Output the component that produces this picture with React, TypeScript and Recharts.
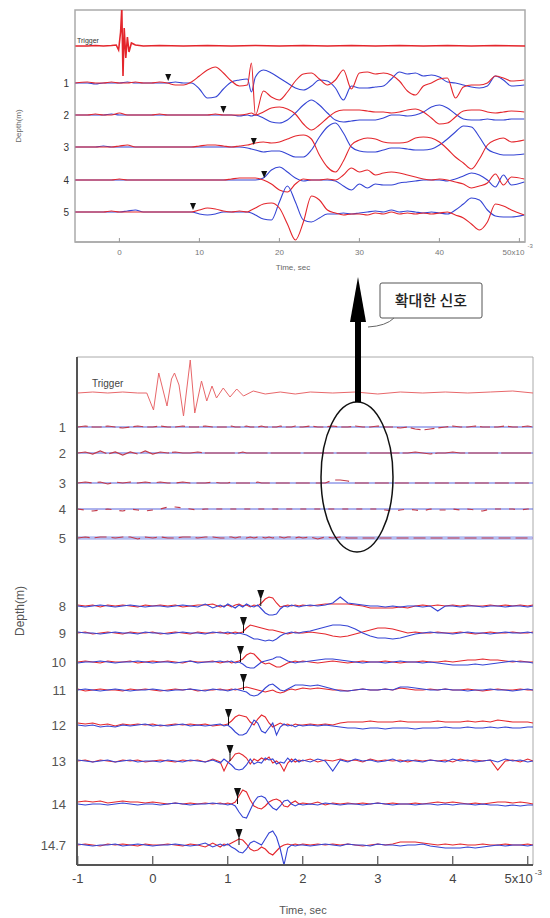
import { ComposedChart, Line, Scatter, XAxis, YAxis, ReferenceArea, ReferenceDot } from 'recharts'

const RED = '#e4262c'
const BLUE = '#3444d4'

// ---- upper panel: enlarged signal, time in ms ----
const TOP_LABELS = ['Trigger', '1', '2', '3', '4', '5']
const TOP_BASE = [196, 159, 127, 95, 62, 30]
const TOP_TICKS = [0, 10, 20, 30, 40, 50]
const TOP_DOMAIN = [-5.55, 50.7]
const TOP_PICKS = [6.1, 13.0, 16.8, 18.1, 9.2]

const TOP_T = [
  -5.5, -4, -3, -2, -1, 0, 1, 2, 3, 4, 5, 6, 7, 8, 9, 10, 11, 12, 13, 14, 15, 16, 16.5,
  17, 18, 19, 20, 21, 22, 23, 24, 25, 26, 27, 28, 29, 30, 31, 32, 33, 34, 35, 36, 37, 38, 39, 40,
  41, 42, 43, 44, 45, 46, 47, 48, 49, 50.6,
]

const TOP_TRIG_T = [
  -5.5, -4, -3, -2, -1, -0.4, -0.1, 0.15, 0.3, 0.45, 0.6, 0.8, 1.0, 1.2, 1.5, 2, 3, 5, 8, 11, 14,
  17, 20, 23, 26, 29, 32, 35, 38, 41, 44, 47, 50.7,
]
const TOP_TRIG = [
  0, 0, 0.5, 0, 0.5, 1, -4, 14, 38, -30, 18, -12, 9, -6, 3, 1, 0, 0.5, 0, 0.5, 0, 0.5, 0, 0.5, 0,
  0.5, 0, 0.5, 0, 0.5, 0, 0.5, 0,
]

const R1_TOP = [
  0, 1, 0, 0, 1, 0, 0, 1, 0, 0, 1, 0, -2, -2, 1, 7, 13, 16, 10, 2, -3, -2, 20,
  -32, -8, -14, -17, -9, 2, 9, 10, 4, -2, 3, 13, -6, 10, 11, 9, 10, 8, 2, -8, -12, -3, 0, 4, 5, -15,
  -4, -2, -2, 0, 7, 5, 2, 3,
]
const B1_TOP = [
  0, 0, -1, 0, 0, 0, 1, 0, 0, 0, 0, 0, 1, 0, 0, -6, -15, -14, -6, 1, 3, 4, -9,
  6, 13, 10, 5, 0, -5, -7, -3, 3, 2, -5, -17, -3, -5, -5, -4, -3, 4, 11, 9, 10, 7, 8, 6, 1, 0,
  -2, -4, -5, -3, 7, 3, -3, -2,
]
const R2_TOP = [
  0, 0, 1, 0, 0, 2, 0, 0, 0, 0, 1, 0, 0, 0, 0, 0, 0, 1, 0, 0, 0, 1, 2,
  0, 3, 7, 8, 6, 1, -9, -15, -10, -3, 3, 5, 5, 5, 4, 3, 3, 2, 3, 5, 6, 3, -3, -9, -8, -2,
  4, 5, 5, 3, 2, 3, 4, 3,
]
const B2_TOP = [
  0, 0, 0, 0, 1, 0, 0, 0, 0, 0, 0, 0, 0, 0, 0, 0, 0, 0, 0, 0, -1, 0, -1,
  0, -3, -7, -8, -5, 2, 10, 15, 10, 2, -5, -7, -6, -5, -5, -5, -3, 0, 0, -1, 0, 3, 8, 10, 7, 1,
  -4, -5, -5, -4, -5, -5, -4, -4,
]
const R3_TOP = [
  0, 0, 0, 0, 0, 1, 2, 0, 0, 0, 0, 0, 0, 0, 0, 1, 2, 2, 1, 0, 1, 2, 3,
  4, 5, 4, 5, 8, 11, 12, 8, -8, -20, -25, -14, 2, 7, 9, 8, 5, 4, 4, 5, 9, 10, 9, 5, -2, -10,
  -16, -22, -12, 2, 7, 9, 5, 7,
]
const B3_TOP = [
  0, 0, 0, 1, 0, 0, 0, 0, 0, 0, 0, 0, 0, 0, 0, 0, 0, 0, 0, 0, 0, -1, -2,
  -3, -5, -4, -4, -7, -10, -10, -3, 10, 20, 24, 14, 0, -4, -5, -5, -3, -1, -1, -2, -3, -3, -2, 2, 8, 15,
  21, 20, 10, -2, -6, -8, -8, -7,
]
const R4_TOP = [
  0, 0, 0, 0, 0, 1, 0, 0, 0, 0, 0, 0, 0, 0, 0, 0, 0, 0, 0, 1, 2, 2, 2,
  2, 0, -4, -10, -12, -4, 1, 0, 0, 1, 0, 5, 12, 8, 10, 5, 7, 8, 7, 5, 3, 1, 0, 1, 0, -2,
  -4, -8, -6, -3, 6, -5, 3, 1,
]
const B4_TOP = [
  0, 0, 0, 0, 0, 0, 0, 0, 0, 0, 0, 0, 0, 0, 0, 0, 0, 0, 0, 0, 0, 0, 0,
  0, 2, 10, 13, 8, 2, -1, 0, 0, 0, -1, -6, -10, -4, -8, -4, -5, -5, -3, -2, -1, 0, 0, 0, -1, 1,
  4, 7, 5, 0, -7, 5, -5, -2,
]
const R5_TOP = [
  0, 0, 0, 0, 1, 0, 0, 0, 0, 0, 0, 0, 0, 0, 0, 2, 4, 3, 1, 0, 1, 0, 2,
  4, 8, 9, 4, -12, -28, -10, 16, 12, 2, -1, -3, -2, -2, -3, -1, -2, 0, -2, -1, -2, -1, -2, -1, 0, -3,
  -6, -12, -18, -10, 8, 6, 2, -3,
]
const B5_TOP = [
  0, 0, 0, 0, 0, 0, 1, 2, 0, 0, 0, 0, 0, 0, 0, -2, -3, -2, 0, 0, 0, 0, -1,
  -3, -7, -8, 10, 26, 10, -8, -10, -6, -2, -2, -1, -2, -1, 0, 1, 0, 2, 0, 1, 0, -1, 0, -1, -2, 2,
  8, 14, 12, 2, -4, -5, -5, -3,
]

// ---- lower panel: full record, time in s x10^-3 ----
const BOT_LABELS = ['Trigger', '1', '2', '3', '4', '5', '8', '9', '10', '11', '12', '13', '14', '14.7']
const BOT_BASE = [472, 438, 412, 382, 356, 327, 259, 232, 203, 175, 140, 104, 61, 20]
const BOT_TICKS = [-1, 0, 1, 2, 3, 4, 5]
const BOT_DOMAIN = [-1.01, 5.07]
const BOT_PICKS = [1.44, 1.21, 1.17, 1.21, 1.01, 1.03, 1.13, 1.15]

const BT = [
  -1, -0.9, -0.8, -0.7, -0.6, -0.5, -0.4, -0.3, -0.2, -0.1, 0, 0.1, 0.2, 0.3, 0.4, 0.5, 0.6, 0.7, 0.8, 0.9,
  0.95, 1, 1.05, 1.1, 1.15, 1.2, 1.25, 1.3, 1.35, 1.4, 1.45, 1.5, 1.55, 1.6, 1.65, 1.7, 1.75, 1.8, 1.85, 1.9, 1.95,
  2, 2.1, 2.2, 2.3, 2.4, 2.5, 2.6, 2.7, 2.8, 2.9, 3, 3.1, 3.2, 3.3, 3.4, 3.5, 3.6, 3.7, 3.8, 3.9, 4, 4.1, 4.2,
  4.3, 4.4, 4.5, 4.6, 4.7, 4.8, 4.9, 5, 5.07,
]

const TRIG_T = [
  -1, -0.8, -0.6, -0.4, -0.2, -0.08, 0.01, 0.08, 0.19, 0.25, 0.29, 0.35, 0.41, 0.5, 0.56, 0.65, 0.72,
  0.79, 0.85, 0.94, 1.03, 1.12, 1.21, 1.34, 1.5, 1.7, 1.9, 2.1, 2.4, 2.7, 3.0, 3.3, 3.6, 3.9, 4.2, 4.5,
  4.8, 5.07,
]
const TRIG = [
  0, 1, 0, 1, 0, 0, -17, 20, -13, 14, 20, 8, -23, 33, -20, 12, -8, 7, -5, 5, -4, 4, -3, 2, -1, 1, -1,
  1, 0, 1, -1, 1, 0, 1, 0, 1, 2, 0,
]

const QUIET_T = [-1.01, 5.07]
const QUIET_BLUE = [0, 0]

const Q1_RED = [
  0, 1, 0, 0, 1, 0, -1, 0, 1, 0, 0, 1, 0, 0, 1, 0, 0, 1, 0, 0,
  0, 0, 1, 0, 0, 0, 1, 0, 0, 0, 1, 0, 0, 0, 0, 1, 0, 0, 0, 1, 0,
  0, 1, 0, 0, 1, 0, 0, 1, 0, 0, 1, 0, 0, -1, 0, -2, -3, -2, -1, 0, 1, 0, 0, 1, 0, 0, 0, 1, 0, 0, 1, 0,
]
const Q2_RED = [
  0, 1, -1, 2, -1, 1, -2, 1, -1, 2, -1, 1, 0, 1, 0, 0, 1, 0, 0, 0,
  0, 0, 0, 0, 0, 1, 0, 0, 0, 0, 0, 0, 0, 0, 0, 0, 0, 0, 0, 0, 0,
  0, 0, 0, 0, 0, 0, 0, 0, 0, 0, 0, 0, 0, 0, 0, 1, 0, -1, 0, 0, 1, 0, 0, 0, 0, 0, 0, 0, 0, 0, 0, 0,
]
const Q3_RED = [
  0, 1, 0, 1, -1, 1, 0, 1, 0, 1, 0, 1, 0, 0, 1, 0, 0, 0, 1, 0,
  0, 0, 1, 0, 0, 0, 0, 0, 0, 1, 0, 0, 0, 0, 0, 0, 0, 0, 0, 0, 0,
  0, 0, 0, 0, 3, 3, 2, 0, 0, 0, 0, 0, 0, 0, 0, 0, 0, 0, 0, 0, 0, 0, 0, 0, 0, 0, 0, 0, 0, 0, 0, 0,
]
const Q4_RED = [
  0, -1, -2, -1, 0, -1, -2, 0, -1, -2, -1, 0, 2, 2, 1, 0, -1, 0, 0, 0,
  0, 0, 0, 0, 0, 0, 0, 0, 0, 0, 0, 0, 0, 0, 0, 0, 0, 0, 0, 0, 0,
  0, 0, 0, 0, 0, 0, 0, 0, 0, 0, 0, -1, -2, -1, 0, -1, -2, 0, -1, -1, 0, -1, 0, -1, -2, 0, 0, 0, 0, -1, 0, 0,
]
const Q5_RED = [
  0, 1, 0, 1, 1, 0, 1, 1, -1, 1, 0, 1, 0, 0, 1, 1, 0, 1, 1, 0,
  0, 1, 1, 0, 1, 1, 0, 1, 0, 1, 1, 0, 1, 0, 1, 1, 0, 1, 1, 0, 1,
  0, 1, -1, 1, 0, 1, 0, 0, 0, 0, 0, 0, 0, 0, 0, 0, 0, 0, 0, 0, 0, 0, 0, 0, 0, 0, 0, 0, 0, 0, 0, 0,
]

const R8 = [
  1, 0, 1, -1, 1, 0, 1, 0, -1, 1, 0, 1, 0, 1, -1, 0, 1, 1, 2, -1,
  0, 1, -1, 1, 2, 0, 1, -1, 1, 0, 3, 7, 9, 8, 3, -1, 0, 1, 0, 1, 0,
  1, 0, 1, 2, 2, 2, 2, 1, 0, -2, -2, -2, -2, -1, -2, 0, 1, 0, 1, 0, 1, 0, 1, 0, 0, 1, 0, 1, 0, 1, 0, 1,
]
const B8 = [
  0, -1, 0, 1, 0, -1, 0, 1, 0, -1, 0, 0, -1, 0, 1, 0, -1, 2, -2, 1,
  -1, 2, 0, -2, 1, -1, 2, 0, -1, 1, -3, -7, -9, -9, -8, -3, 0, -1, 1, 0, -1,
  0, 1, 0, 1, 3, 9, 3, 2, 1, 0, 0, -1, 0, -1, 0, 0, -1, 0, -5, 0, 0, -1, 0, 0, -1, 0, 0, -1, 0, 0, -1, 0,
]
const R9 = [
  0, 1, -1, 0, 1, 0, -1, 1, 0, 0, 1, -1, 0, 1, 0, -1, 1, 0, 0, 1,
  0, -1, 0, 1, 0, 1, 5, 8, 7, 6, 5, 4, 3, 3, 2, 1, 0, -1, 0, 1, 0,
  0, 1, 0, -1, -3, -4, -3, -1, 1, 3, 5, 5, 4, 2, 0, 1, 0, 0, 1, 0, 0, 1, 0, -1, 0, 1, 0, 0, 1, 0, 0, 1,
]
const B9 = [
  1, 0, 0, -1, 0, 1, 0, 0, -1, 1, 0, 0, -1, 0, 1, 0, 0, -1, 1, 0,
  0, 1, 0, -1, 0, -1, -2, -4, -6, -6, -7, -8, -7, -8, -6, -3, -1, 0, 1, 0, 0,
  1, 2, 4, 6, 8, 8, 7, 4, 0, -3, -5, -5, -6, -5, -3, -1, 0, 1, 0, 0, -1, 0, 1, 0, 0, -1, 0, 1, 0, 0, 1, 0,
]
const R10 = [
  0, 1, 0, -1, 1, 0, 0, 1, -1, 0, 1, 0, 1, 0, -1, 1, 0, 0, 1, -1,
  0, 1, -1, 0, 1, 3, 7, 9, 8, 4, 0, -2, -1, -3, -5, -5, -3, -1, 0, 1, 0,
  1, 0, -1, 0, 1, 0, -1, 0, 1, 0, 0, 1, 0, -1, 0, 0, 1, 0, 0, 1, 0, 1, 2, 2, 3, 2, 2, 1, 0, 1, 0, 0,
]
const B10 = [
  -1, 0, 0, 1, 0, -1, 0, 0, 1, 0, -1, 0, 0, -1, 0, 1, -1, 0, 0, 1,
  0, 0, 1, -1, 0, -2, -5, -6, -6, -3, 0, 1, 2, 3, 5, 5, 3, 1, 0, -1, 0,
  0, 1, 2, 3, 3, 2, 1, 0, -1, 0, 0, -1, 0, 1, 0, 0, -1, 0, -1, -2, -3, -3, -3, -2, -3, -2, -1, 0, 1, 0, 0, -1,
]
const R11 = [
  1, -1, 0, 1, 0, 0, -1, 1, 0, 1, 0, -1, 0, 1, 0, 1, -1, 0, 0, 1,
  0, 0, 1, 0, 1, 2, 3, 2, 1, 0, -1, -2, -1, 0, -2, -3, -2, 0, 1, 0, 1,
  2, 1, 2, 1, 0, 0, -1, 0, 1, 0, 0, 1, 0, 2, 1, 0, 0, 1, 0, 1, 0, 0, 1, 0, -1, 0, 1, 0, 0, 1, 0, 0,
]
const B11 = [
  0, 1, 0, -1, 0, 1, 0, -1, 0, 0, 1, 0, -1, 0, 0, 1, 0, -1, 1, 0,
  0, -1, 0, 1, 0, -1, -2, -5, -6, -5, -2, 2, 5, 6, 3, 0, -1, 1, 3, 5, 5,
  5, 4, 5, 3, 1, -1, -1, 0, 1, 0, 0, 1, 0, 3, 3, 2, 1, 0, 0, 1, 0, 0, -1, 0, 0, 1, 0, 0, -1, 0, 1, 0,
]
const R12 = [
  2, 1, 2, 0, 1, -1, 1, 0, 1, 0, 1, -1, 0, 1, 0, 1, 0, 1, -1, 0,
  0, 1, 4, 8, 10, 9, 8, 3, 0, 6, 10, 8, 2, -2, 0, 2, 0, 1, -1, 1, 0,
  0, 1, 0, 1, 0, 2, 3, 3, 3, 4, 3, 3, 3, 4, 3, 3, 3, 3, 4, 3, 3, 3, 4, 3, 4, 3, 5, 4, 3, 3, 3, 2,
]
const B12 = [
  0, -1, 0, -2, -1, -2, 0, -1, 0, 1, -1, 0, -1, 0, 1, -1, 0, -1, 0, 1,
  -1, 0, -3, -7, -10, -10, -8, -2, 5, 2, -6, -8, -3, 2, -10, -2, 1, -1, 0, -2, 0,
  -1, 0, -1, 0, -1, -2, -3, -3, -4, -3, -3, -4, -3, -3, -3, -4, -3, -3, -3, -2, -3, -3, -2, -3, -3, -2, -3, -2, -3, -3, -2, -2,
]
const R13 = [
  0, 1, -1, 1, 0, -1, 1, 0, 1, -1, 0, 1, 0, -1, 1, 0, 1, -1, 2, -1,
  -10, -2, 2, 7, 8, 6, 3, -3, 2, 0, 3, 1, 4, -2, 0, -3, -10, -2, 2, -1, 1,
  0, 2, -1, 1, 0, 2, 0, 1, -1, 2, 0, 1, 0, 1, -1, 1, 0, 1, 0, 1, -1, 2, 0, 1, 0, 1, -9, 0, 1, -1, 2, 0,
]
const B13 = [
  1, 0, -1, 0, 1, -1, 0, 1, -1, 0, 0, -1, 1, 0, -1, 1, 0, -1, 1, -2,
  2, -1, -4, -8, -9, -8, -4, 2, -3, -1, -2, 3, 1, 2, -3, -1, -2, 3, -1, 2, -1,
  1, -1, 2, 0, -10, 1, -1, 2, 0, 1, -1, 0, 2, -1, 1, 0, -1, 1, 0, -1, 2, 0, 1, -1, 0, 1, -1, 2, 0, 1, -1, 0,
]
const R14 = [
  2, 3, 2, 3, 1, 2, 3, 2, 2, 1, 2, 1, 0, 1, 0, 1, 0, 1, 0, 1,
  0, 1, 0, 2, 8, 14, 12, 4, -2, -4, -5, -2, 2, 4, 5, 3, -2, -3, 1, 3, 0,
  1, 0, 2, -1, 1, 0, 1, 0, 1, 0, 1, 0, 1, 0, 0, 1, 0, 1, 2, 1, 2, 1, 0, 1, 0, 1, 2, 2, 1, 2, 1, 0,
]
const B14 = [
  0, -1, 0, 0, -1, 0, 1, 0, -1, 0, 0, -1, 0, 1, 0, -1, 0, 0, 1, 0,
  0, -1, 0, -2, -8, -13, -14, -6, 2, 7, 8, 6, 0, -4, -6, -2, 3, 4, 0, -2, 0,
  -1, 0, -1, 1, 0, -1, 0, 0, -1, 0, 1, 0, -1, 0, 0, -1, 0, 0, -1, 0, -1, 0, 0, -1, 0, -1, -1, -2, -1, -2, -1, -1,
]
const R147 = [
  0, 1, 0, -1, 1, 0, 1, 0, -1, 1, 0, 0, 1, 0, -1, 1, 0, -2, 2, -2,
  1, 0, 2, 4, 6, 5, 1, -4, -6, -5, -2, -4, -8, -10, -6, -2, 0, 1, 0, 1, 0,
  1, 0, 1, 0, 1, 0, 1, 0, -1, 0, 1, 0, 1, 3, 3, 3, 2, 1, 0, 1, 0, 1, 0, 0, 1, 0, 0, 1, 0, 0, 1, 0,
]
const B147 = [
  1, 0, -1, 0, 0, 1, -1, 0, 1, 0, -1, 0, 0, 1, 0, -1, 0, 2, -2, 1,
  -1, 1, -2, -4, -7, -8, -4, 2, 4, 2, 0, 6, 12, 14, 8, -4, -20, -3, 0, -1, 0,
  0, -1, 0, 1, 0, -1, 1, 0, 0, -1, 1, 0, 0, -1, 0, 0, 1, -1, -2, -3, -3, -3, -2, -3, -2, -1, 0, -1, 0, 0, -1, 0,
]

const TOP_TRACES = [
  { red: R1_TOP, blue: B1_TOP },
  { red: R2_TOP, blue: B2_TOP },
  { red: R3_TOP, blue: B3_TOP },
  { red: R4_TOP, blue: B4_TOP },
  { red: R5_TOP, blue: B5_TOP },
]
const QUIET_TRACES = [
  { red: Q1_RED, dash: '10 4' },
  { red: Q2_RED, dash: '30 3' },
  { red: Q3_RED, dash: '14 6' },
  { red: Q4_RED, dash: '6 8' },
  { red: Q5_RED, dash: '12 5' },
]
const DEEP_TRACES = [
  { red: R8, blue: B8 },
  { red: R9, blue: B9 },
  { red: R10, blue: B10 },
  { red: R11, blue: B11 },
  { red: R12, blue: B12 },
  { red: R13, blue: B13 },
  { red: R14, blue: B14 },
  { red: R147, blue: B147 },
]

const pts = (ts: number[], vs: number[], base: number) =>
  ts.map((t, i) => ({ t, v: base + (vs[i] ?? 0) }))

const topPickData = TOP_PICKS.map((t, i) => ({ t, v: TOP_BASE[i + 1] }))
const botPickData = BOT_PICKS.map((t, i) => ({ t, v: BOT_BASE[i + 6] }))

const TopPick = (p: any) => (
  <polygon points={`${p.cx - 3},${p.cy - 9} ${p.cx + 3},${p.cy - 9} ${p.cx},${p.cy - 2}`} fill="#111" />
)
const BotPick = (p: any) => (
  <g>
    <polygon points={`${p.cx - 3.5},${p.cy - 16} ${p.cx + 3.5},${p.cy - 16} ${p.cx},${p.cy - 6}`} fill="#111" />
    <line x1={p.cx} x2={p.cx} y1={p.cy - 7} y2={p.cy} stroke="#111" strokeWidth={1} />
  </g>
)

function TopXTick({ x, y, payload }: any) {
  const last = payload.value === 50
  return (
    <g>
      <line x1={x} x2={x} y1={y} y2={y - 4} stroke="#999" />
      <text x={last ? x + 5 : x} y={y + 13} textAnchor={last ? 'end' : 'middle'} fontSize={8} fill="#777">
        {last ? '50x10' : payload.value}
      </text>
      {last && (
        <text x={x + 8} y={y + 6} fontSize={6} fill="#777">-3</text>
      )}
    </g>
  )
}

function BotXTick({ x, y, payload }: any) {
  const last = payload.value === 5
  return (
    <g>
      <line x1={x} x2={x} y1={y} y2={y - 9} stroke="#555" strokeWidth={1.2} />
      <text x={last ? x + 5 : x} y={y + 18} textAnchor={last ? 'end' : 'middle'} fontSize={13} fill="#444">
        {last ? '5x10' : payload.value}
      </text>
      {last && (
        <text x={x + 7} y={y + 10} fontSize={8} fill="#444">-3</text>
      )}
    </g>
  )
}

function TopYTick({ x, y, payload }: any) {
  return (
    <text x={x - 6} y={y} textAnchor="end" dominantBaseline="central" fontSize={10} fill="#333">
      {TOP_LABELS[TOP_BASE.indexOf(payload.value)]}
    </text>
  )
}

function BotYTick({ x, y, payload }: any) {
  return (
    <text x={x - 11} y={y} textAnchor="end" dominantBaseline="central" fontSize={13} fill="#555">
      {BOT_LABELS[BOT_BASE.indexOf(payload.value)]}
    </text>
  )
}

const xTitle = (size: number, dx: number, dy: number, color: string) => ({ viewBox }: any) => (
  <text x={viewBox.x + viewBox.width / 2 + dx} y={viewBox.y + dy} textAnchor="middle" fontSize={size} fill={color}>
    Time, sec
  </text>
)
const yTitle = (size: number, dx: number, color: string) => ({ viewBox }: any) => {
  const cx = viewBox.x + dx
  const cy = viewBox.y + viewBox.height / 2
  return (
    <text x={cx} y={cy} transform={`rotate(-90 ${cx} ${cy})`} textAnchor="middle" dominantBaseline="central" fontSize={size} fill={color}>
      Depth(m)
    </text>
  )
}

export default function App() {
  return (
    <div style={{ position: 'relative', width: 550, height: 918, background: '#fff', fontFamily: '"Liberation Sans", Arial, sans-serif' }}>
      <style>{'body{margin:0}'}</style>

      <div style={{ position: 'absolute', left: 0, top: 0 }}>
        <ComposedChart width={550} height={280} margin={{ top: 10, right: 25, bottom: 8, left: 10 }}>
          <XAxis
            dataKey="t" type="number" domain={TOP_DOMAIN} ticks={TOP_TICKS} allowDataOverflow interval={0}
            height={30} tick={TopXTick} tickLine={false} tickSize={0} tickMargin={0}
            axisLine={{ stroke: '#aaa', strokeWidth: 1.5 }}
            label={{ content: xTitle(8, -7, 28, '#666') }}
          />
          <YAxis
            type="number" domain={[0, 232]} ticks={TOP_BASE.slice(1)} allowDataOverflow interval={0}
            width={65} tick={TopYTick} tickLine={false} tickSize={0} tickMargin={0} axisLine={false}
            label={{ content: yTitle(8, 8, '#666') }}
          />
          <ReferenceArea x1={TOP_DOMAIN[0]} x2={TOP_DOMAIN[1]} y1={0} y2={232} fill="none" stroke="#aaa" strokeWidth={1.5} />
          <ReferenceDot
            x={-5.3} y={199} r={1}
            shape={(p: any) => <text x={p.cx} y={p.cy} fontSize={7} fill="#333">Trigger</text>}
          />
          <Line data={pts(TOP_TRIG_T, TOP_TRIG, TOP_BASE[0])} dataKey="v" stroke={RED} strokeWidth={1.6} dot={false} isAnimationActive={false} />
          {TOP_TRACES.map((tr, i) => [
            <Line key={`tb${i}`} type="monotone" data={pts(TOP_T, tr.blue, TOP_BASE[i + 1])} dataKey="v" stroke={BLUE} strokeWidth={1.1} dot={false} isAnimationActive={false} />,
            <Line key={`tr${i}`} type="monotone" data={pts(TOP_T, tr.red, TOP_BASE[i + 1])} dataKey="v" stroke={RED} strokeWidth={1.1} dot={false} isAnimationActive={false} />,
          ])}
          <Scatter data={topPickData} dataKey="v" shape={TopPick} isAnimationActive={false} />
        </ComposedChart>
      </div>

      <div style={{ position: 'absolute', left: 0, top: 340 }}>
        <ComposedChart width={550} height={578} margin={{ top: 17, right: 17, bottom: 1, left: 10 }}>
          <XAxis
            dataKey="t" type="number" domain={BOT_DOMAIN} ticks={BOT_TICKS} allowDataOverflow interval={0}
            height={52} tick={BotXTick} tickLine={false} tickSize={0} tickMargin={0}
            axisLine={{ stroke: '#555', strokeWidth: 2 }}
            label={{ content: xTitle(11, -2, 49, '#555') }}
          />
          <YAxis
            type="number" domain={[0, 508]} ticks={BOT_BASE.slice(1)} allowDataOverflow interval={0}
            width={67} tick={BotYTick} tickLine={false} tickSize={0} tickMargin={0}
            axisLine={{ stroke: '#555', strokeWidth: 2 }}
            label={{ content: yTitle(12, 10, '#555') }}
          />
          <ReferenceArea x1={BOT_DOMAIN[0]} x2={BOT_DOMAIN[1]} y1={0} y2={508} fill="none" stroke="#aaa" strokeWidth={1} />
          <ReferenceDot
            x={-0.81} y={478} r={1}
            shape={(p: any) => <text x={p.cx} y={p.cy} fontSize={10} fill="#444">Trigger</text>}
          />
          <Line data={pts(TRIG_T, TRIG, BOT_BASE[0])} dataKey="v" stroke="#e8676a" strokeWidth={1} dot={false} isAnimationActive={false} />
          {QUIET_TRACES.map((tr, i) => [
            <Line
              key={`qb${i}`} data={pts(QUIET_T, QUIET_BLUE, BOT_BASE[i + 1])} dataKey="v"
              stroke={i === 4 ? '#b4bcf0' : '#5a66dc'} strokeWidth={i === 4 ? 3.5 : 1}
              dot={false} isAnimationActive={false}
            />,
            <Line
              key={`qr${i}`} data={pts(BT, tr.red, BOT_BASE[i + 1])} dataKey="v"
              stroke="#c23a4a" strokeWidth={1.2} strokeDasharray={tr.dash}
              dot={false} isAnimationActive={false}
            />,
          ])}
          {DEEP_TRACES.map((tr, i) => [
            <Line key={`dr${i}`} data={pts(BT, tr.red, BOT_BASE[i + 6])} dataKey="v" stroke={RED} strokeWidth={1.1} dot={false} isAnimationActive={false} />,
            <Line key={`db${i}`} data={pts(BT, tr.blue, BOT_BASE[i + 6])} dataKey="v" stroke={BLUE} strokeWidth={1.1} dot={false} isAnimationActive={false} />,
          ])}
          <Scatter data={botPickData} dataKey="v" shape={BotPick} isAnimationActive={false} />
        </ComposedChart>
      </div>

      <svg width={550} height={918} style={{ position: 'absolute', left: 0, top: 0, pointerEvents: 'none' }}>
        <ellipse cx={357} cy={477} rx={36} ry={75} fill="none" stroke="#111" strokeWidth={1.5} />
        <line x1={358} y1={402} x2={358} y2={316} stroke="#000" strokeWidth={6} />
        <polygon points="358,277 350,322 366,322" fill="#000" />
        <rect x={380} y={283} width={102} height={35} rx={2} fill="#fff" stroke="#555" />
        <path d="M 394 318 Q 386 326 368 327" fill="none" stroke="#666" />
        <text x={431} y={306} textAnchor="middle" fontSize={15} fontFamily='"Noto Sans CJK KR", sans-serif' fontWeight={500} fill="#222">
          확대한 신호
        </text>
      </svg>
    </div>
  )
}
